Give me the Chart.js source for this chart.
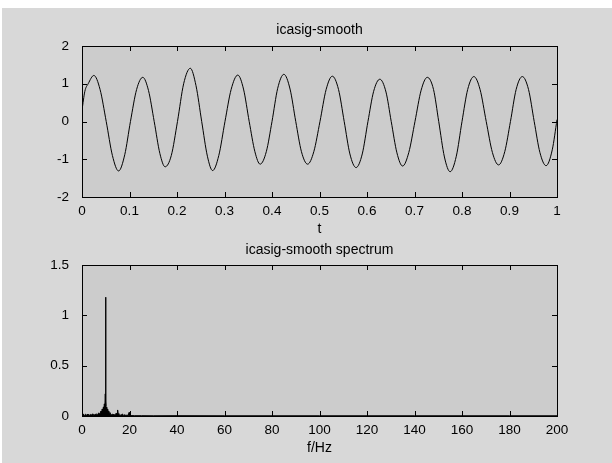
<!DOCTYPE html>
<html>
<head>
<meta charset="utf-8">
<script src="https://cdn.jsdelivr.net/npm/chart.js@4/dist/chart.umd.min.js"></script>
<style>
    html, body { margin: 0; padding: 0; background: #ffffff; }
    #page { position: relative; width: 612px; height: 463px; overflow: hidden; }
    #fig { position: absolute; left: 2px; top: 8px; right: 0; bottom: 0; background: #d8d8d8; }
    canvas { position: absolute; left: 0; top: 0; }
</style>
</head>
<body>
<div id="page">
    <div id="fig"></div>
    <canvas id="sigChart" width="612" height="463"></canvas>
    <canvas id="specChart" width="612" height="463"></canvas>
</div>
<script>
// icasig-smooth, time axis (s)
const sigTime = [0, 0.006, 0.013, 0.025, 0.038, 0.051, 0.064, 0.077, 0.090, 0.102,
    0.115, 0.128, 0.140, 0.152, 0.164, 0.175, 0.188, 0.201, 0.214, 0.228,
    0.240, 0.252, 0.264, 0.275, 0.288, 0.301, 0.314, 0.328, 0.340, 0.352,
    0.364, 0.375, 0.388, 0.400, 0.412, 0.425, 0.438, 0.450, 0.462, 0.475,
    0.488, 0.501, 0.514, 0.527, 0.540, 0.552, 0.564, 0.577, 0.590, 0.602,
    0.614, 0.627, 0.640, 0.651, 0.663, 0.675, 0.688, 0.701, 0.714, 0.727,
    0.740, 0.751, 0.763, 0.775, 0.788, 0.800, 0.812, 0.825, 0.838, 0.851,
    0.864, 0.877, 0.890, 0.902, 0.914, 0.927, 0.940, 0.952, 0.964, 0.977,
    0.990, 1.0];
const sigValues = [0.3, 0.8, 1.0, 1.22, 0.85, 0.0, -0.9, -1.31, -0.88, 0.0,
    0.85, 1.17, 0.82, 0.0, -0.85, -1.2, -0.9, 0.0, 1.0, 1.41,
    0.95, 0.0, -0.92, -1.3, -0.9, 0.0, 0.85, 1.23, 0.86, 0.0,
    -0.8, -1.13, -0.8, 0.0, 0.88, 1.25, 0.86, 0.0, -0.8, -1.13,
    -0.8, 0.0, 0.85, 1.2, 0.85, 0.0, -0.86, -1.22, -0.86, 0.0,
    0.8, 1.12, 0.78, 0.0, -0.83, -1.18, -0.82, 0.0, 0.83, 1.17,
    0.85, 0.0, -0.94, -1.33, -0.92, 0.0, 0.85, 1.19, 0.85, 0.0,
    -0.82, -1.15, -0.8, 0.0, 0.85, 1.19, 0.85, 0.0, -0.82, -1.17,
    -0.75, 0.05];

// icasig-smooth spectrum (Hz / amplitude)
const specFreq = [0, 0.5, 1, 1.5, 2, 2.5, 3, 3.5, 4, 4.5,
    5, 5.5, 6, 6.5, 7, 7.5, 8, 8.25, 8.5, 8.75,
    9, 9.2, 9.4, 9.6, 9.8, 9.9, 10, 10.1, 10.2, 10.4,
    10.6, 10.8, 11, 11.25, 11.5, 11.75, 12, 12.5, 13, 13.5,
    14, 14.5, 14.8, 15, 15.2, 15.5, 16, 16.5, 17, 17.5,
    18, 18.5, 19, 19.5, 19.8, 20, 21, 22, 25, 30,
    40, 60, 80, 100, 120, 140, 160, 180, 200];
const specAmp = [0.01, 0.02, 0.005, 0.018, 0.008, 0.02, 0.006, 0.015, 0.01, 0.022,
    0.008, 0.014, 0.02, 0.01, 0.03, 0.02, 0.05, 0.03, 0.07, 0.04,
    0.09, 0.06, 0.12, 0.08, 0.22, 0.1, 1.18, 0.14, 0.06, 0.09,
    0.05, 0.07, 0.04, 0.05, 0.025, 0.035, 0.02, 0.012, 0.018, 0.01,
    0.015, 0.03, 0.02, 0.06, 0.025, 0.012, 0.008, 0.01, 0.02, 0.006,
    0.012, 0.005, 0.01, 0.004, 0.035, 0.006, 0.004, 0.003, 0.003, 0.002,
    0.003, 0.002, 0.002, 0.002, 0.002, 0.002, 0.002, 0.002, 0.002];

const PLOT_BG = '#cccccc';
const FONT = "'Liberation Sans', Arial, Helvetica, sans-serif";

Chart.defaults.font.family = FONT;
Chart.defaults.color = '#000';

// MATLAB-like box: grey plot area, black frame, inward ticks on all four sides, title above
const matlabAxes = {
    id: 'matlabAxes',
    beforeDraw(chart) {
        const { ctx, chartArea: a } = chart;
        ctx.save();
        ctx.fillStyle = PLOT_BG;
        ctx.fillRect(a.left, a.top, a.right - a.left, a.bottom - a.top);
        ctx.restore();
    },
    afterDatasetsDraw(chart, args, opts) {
        const { ctx, chartArea: a, scales } = chart;
        const len = 5;
        ctx.save();
        ctx.strokeStyle = '#000';
        ctx.lineWidth = 1;
        ctx.beginPath();
        scales.x.ticks.forEach(t => {
            const px = Math.round(scales.x.getPixelForValue(t.value)) + 0.5;
            ctx.moveTo(px, a.bottom); ctx.lineTo(px, a.bottom - len);
            ctx.moveTo(px, a.top); ctx.lineTo(px, a.top + len);
        });
        scales.y.ticks.forEach(t => {
            const py = Math.round(scales.y.getPixelForValue(t.value)) + 0.5;
            ctx.moveTo(a.left, py); ctx.lineTo(a.left + len, py);
            ctx.moveTo(a.right, py); ctx.lineTo(a.right - len, py);
        });
        ctx.stroke();
        ctx.strokeRect(a.left + 0.5, a.top + 0.5, a.right - a.left, a.bottom - a.top);

        ctx.fillStyle = '#000';
        ctx.font = '14px ' + FONT;
        ctx.textAlign = 'center';
        ctx.textBaseline = 'middle';
        ctx.fillText(opts.text, (a.left + a.right) / 2, a.top - opts.gap);
        ctx.restore();
    }
};

// 1.0 -> "1", 0.5 -> "0.5", like MATLAB
const plainTick = value => String(+Number(value).toFixed(3));

function axesOptions(xMin, xMax, xStep, yMin, yMax, yStep, xLabel) {
    return {
        x: {
            type: 'linear', min: xMin, max: xMax,
            grid: { display: false }, border: { display: false },
            ticks: { stepSize: xStep, autoSkip: false, maxRotation: 0, padding: -2, font: { size: 13.5 }, callback: plainTick },
            title: { display: true, text: xLabel, padding: { top: 0, bottom: 1 }, font: { size: 14 } },
            afterFit(scale) { scale.height = 42; }
        },
        y: {
            min: yMin, max: yMax,
            grid: { display: false }, border: { display: false },
            ticks: { stepSize: yStep, padding: 5, font: { size: 13.5 }, callback: plainTick },
            afterFit(scale) { scale.width = 82; }
        }
    };
}

new Chart(document.getElementById('sigChart'), {
    type: 'line',
    data: {
        datasets: [{
            data: sigTime.map((t, i) => ({ x: t, y: sigValues[i] })),
            borderColor: '#000',
            borderWidth: 1,
            pointRadius: 0,
            cubicInterpolationMode: 'monotone'
        }]
    },
    options: {
        responsive: false,
        animation: false,
        layout: { padding: { top: 46, right: 55, bottom: 224, left: 0 } },
        scales: axesOptions(0, 1, 0.1, -2, 2, 1, 't'),
        plugins: {
            legend: { display: false },
            tooltip: { enabled: false },
            matlabAxes: { text: 'icasig-smooth', gap: 16 }
        }
    },
    plugins: [matlabAxes]
});

new Chart(document.getElementById('specChart'), {
    type: 'line',
    data: {
        datasets: [{
            data: specFreq.map((f, i) => ({ x: f, y: specAmp[i] })),
            borderColor: '#000',
            backgroundColor: '#000',
            borderWidth: 1,
            pointRadius: 0,
            tension: 0,
            fill: 'origin'
        }]
    },
    options: {
        responsive: false,
        animation: false,
        layout: { padding: { top: 265, right: 55, bottom: 5, left: 0 } },
        scales: axesOptions(0, 200, 20, 0, 1.5, 0.5, 'f/Hz'),
        plugins: {
            legend: { display: false },
            tooltip: { enabled: false },
            matlabAxes: { text: 'icasig-smooth spectrum', gap: 15 }
        }
    },
    plugins: [matlabAxes]
});
</script>
</body>
</html>
